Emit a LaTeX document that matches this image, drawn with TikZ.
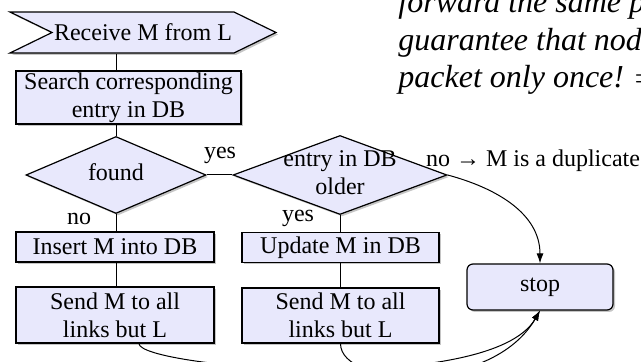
\documentclass[tikz,border=0pt]{standalone}
\usepackage{fontspec}
\setmainfont{Liberation Serif}
\usepackage{tikz}
\usetikzlibrary{shapes.geometric,shapes.symbols,shadows,arrows.meta}

\definecolor{fondbleu}{RGB}{232,232,252}
% texte d'un losange, sans taille propre
\newcommand\dtexte[1]{\makebox[0pt]{\smash{\raisebox{-3pt}{\begin{tabular}[c]{@{}c@{}}#1\end{tabular}}}}}

\begin{document}
\begin{tikzpicture}[x=0.5pt,y=-0.5pt,font=\fontsize{12}{14}\selectfont,
		ombre/.style={drop shadow={shadow xshift=1pt,shadow yshift=-1pt,fill=black!45}},
		boite/.style={rectangle,draw,line width=0.6pt,fill=fondbleu,ombre,inner xsep=1pt,inner ysep=0.5pt,align=center},
		losange/.style={diamond,draw,line width=0.6pt,fill=fondbleu,ombre,inner sep=0pt},
		trait/.style={line width=0.5pt},
		fleche/.style={-{Latex[length=5pt,width=3.5pt]},line width=0.5pt}]
		\useasboundingbox (0,0) rectangle (641,362);
		\clip (0,0) rectangle (641,362);
		\node[signal,signal from=west,signal to=east,signal pointer angle=52,draw,line width=0.6pt,fill=fondbleu,ombre,minimum height=20.5pt,inner xsep=1pt] (recv) at (143,32.5) {Receive M from L};
		\node[boite,minimum width=112.5pt,minimum height=26.5pt] (cherche) at (128.5,97.5) {Search corresponding\\entry in DB};
		\node[losange,minimum width=90pt,minimum height=38.5pt] (trouve) at (116,175) {\dtexte{found}};
		\node[losange,minimum width=107pt,minimum height=39.5pt] (entree) at (340,175) {\dtexte{entry in DB\\older}};
		\node[boite,minimum width=99pt,minimum height=15pt] (insere) at (115,247) {Insert M into DB};
		\node[boite,minimum width=99pt,minimum height=28pt] (envoi1) at (115,315) {Send M to all\\links but L};
		\node[boite,minimum width=98.5pt,minimum height=15pt] (majour) at (340.5,247.5) {Update M in DB};
		\node[boite,minimum width=98.5pt,minimum height=27.5pt] (envoi2) at (340.5,315.5) {Send M to all\\links but L};
		\node[boite,rounded corners=3pt,minimum width=73pt,minimum height=23pt] (stop) at (540,287) {stop};
		\node[inner sep=0pt] (oui1) at (220,155) {yes};
		\node[inner sep=0pt] (non1) at (79,219) {no};
		\node[inner sep=0pt] (oui2) at (298,218) {yes};
		\node[inner sep=0pt] (doublon) at (533,161) {no → M is a duplicate};
		\node[anchor=base west,align=left,inner sep=0pt,font=\fontsize{16}{18.75}\selectfont\itshape] (remarque) at (398,88) {forward the same p\\guarantee that nod\\packet only once! $\Rightarrow$};
		\draw[trait] (recv.south -| trouve) -- (cherche.north -| trouve);
		\draw[trait] (cherche.south -| trouve) -- (trouve.north);
		\draw[trait] (trouve.east) -- (entree.west);
		\draw[trait] (trouve.south) -- (insere.north -| trouve);
		\draw[trait] (insere.south -| trouve) -- (envoi1.north -| trouve);
		\draw[trait] (entree.south) -- (majour.north -| entree);
		\draw[trait] (majour.south -| entree) -- (envoi2.north -| entree);
		\draw[fleche] (entree.east) to[out=-15,in=90] (stop.north);
		\draw[fleche] ([xshift=12pt]envoi1.south) to[out=-90,in=-120,out distance=12pt,in distance=50pt] (stop.south);
		\draw[fleche] (envoi2.south) to[out=-90,in=-120,out distance=22pt,in distance=48pt] (stop.south);
	\end{tikzpicture}
\end{document}
